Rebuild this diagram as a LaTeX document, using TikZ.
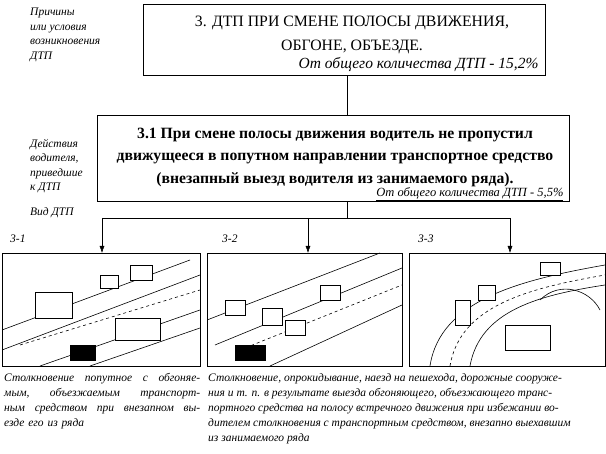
\documentclass[tikz,border=0pt]{standalone}
\usepackage{fontspec}
\setmainfont{Liberation Serif}
\usetikzlibrary{arrows.meta}
\begin{document}
\begin{tikzpicture}[x=1pt,y=-1pt,
  side/.style={font=\itshape\fontsize{11.5}{14.5}\selectfont,align=left,anchor=north west,inner sep=0},
  captext/.style={font=\itshape\fontsize{11.5}{15}\selectfont,align=left,anchor=north west,inner sep=0},
  pic/.style={draw,line width=0.8pt},
  road/.style={line width=0.6pt},
  car/.style={draw,fill=white,line width=0.6pt},
  arr/.style={-{Latex[length=7pt,width=5pt]},line width=0.5pt}]
\useasboundingbox (0,0) rectangle (606,454);
% boxes
\node[draw,line width=0.8pt,minimum width=402,minimum height=71,anchor=north west,inner sep=0] (b1) at (143,4) {};
\node[font=\fontsize{15.8}{24}\selectfont,align=center] (t1) at (352,35) {3. ДТП ПРИ СМЕНЕ ПОЛОСЫ ДВИЖЕНИЯ,\\ОБГОНЕ, ОБЪЕЗДЕ.};
\node[font=\itshape\fontsize{15.5}{16}\selectfont,anchor=east] (p1) at (542,65) {От общего количества ДТП - 15,2\%};
\node[draw,line width=0.8pt,minimum width=472,minimum height=86,anchor=north west,inner sep=0] (b2) at (97,115) {};
\node[font=\bfseries\fontsize{15.7}{22.5}\selectfont,align=center] (t2) at (335,157) {3.1 При смене полосы движения водитель не пропустил\\движущееся в попутном направлении транспортное средство\\(внезапный выезд водителя из занимаемого ряда).};
\node[font=\itshape\fontsize{12.5}{14}\selectfont,anchor=east] (p2) at (567,194) {\underline{От общего количества ДТП - 5,5\%}};
\draw[line width=0.5pt] (b1.south -| 347,0) -- (b2.north -| 347,0);
\coordinate (j) at (347,218);
\draw[line width=0.5pt] (b2.south -| 347,0) -- (j);
\coordinate (l) at (102,218); \coordinate (m) at (308,218); \coordinate (r) at (510,218);
\draw[line width=0.5pt] (l) -- (r);
% side labels
\node[side] (s1) at (30,8) {Причины\\или условия\\возникновения\\ДТП};
\node[side] (s2) at (30,139) {Действия\\водителя,\\приведшие\\к ДТП};
\node[side] (s3) at (30,207) {Вид ДТП};
\node[side] (n1) at (10,235) {3-1};
\node[side] (n2) at (222,235) {3-2};
\node[side] (n3) at (418,235) {3-3};
% pictures
\node[pic,minimum width=198,minimum height=113,anchor=north west,inner sep=0] (i1) at (2,253) {};
\node[pic,minimum width=195,minimum height=113,anchor=north west,inner sep=0] (i2) at (207,253) {};
\node[pic,minimum width=196,minimum height=113,anchor=north west,inner sep=0] (i3) at (409,253) {};
\draw[arr] (l) -- (l |- i1.north);
\draw[arr] (m) -- (m |- i2.north);
\draw[arr] (r) -- (r |- i3.north);
% picture 1
\begin{scope}
\clip (2,253) rectangle (200,366);
\draw[road] (2,330) -- (190,260); \draw[road] (2,350) -- (200,275);
\draw[road,dashed] (20,345) -- (200,290);
\draw[road] (40,366) -- (200,310); \draw[road] (90,366) -- (200,328);
\draw[car] (35,292) rectangle (72,318); \draw[car] (115,318) rectangle (160,340);
\draw[car] (130,265) rectangle (152,280); \draw[car] (100,275) rectangle (118,288);
\draw[car,fill=black] (70,345) rectangle (95,360);
\end{scope}
% picture 2
\begin{scope}
\clip (207,253) rectangle (402,366);
\draw[road] (207,320) -- (380,253); \draw[road] (215,345) -- (402,268);
\draw[road,dashed] (240,350) -- (402,285);
\draw[road] (270,366) -- (402,305);
\draw[car] (262,308) rectangle (282,325); \draw[car] (320,285) rectangle (340,300);
\draw[car] (225,300) rectangle (245,315); \draw[car] (285,320) rectangle (305,335);
\draw[car,fill=black] (235,345) rectangle (265,360);
\end{scope}
% picture 3
\begin{scope}
\clip (409,253) rectangle (605,366);
\draw[road] (430,366) .. controls (440,300) and (520,280) .. (605,265);
\draw[road] (470,366) .. controls (480,310) and (540,295) .. (605,285);
\draw[road,dashed] (450,366) .. controls (460,305) and (530,288) .. (605,275);
\draw[car] (455,300) rectangle (470,325); \draw[car] (478,285) rectangle (495,300);
\draw[car] (505,325) rectangle (550,350); \draw[car] (540,262) rectangle (560,275);
\draw[road] (540,300) .. controls (560,280) and (590,290) .. (600,310);
\end{scope}
% captions
\node[captext,text width=196] (c1) at (4,373) {Столкновение\hfill попутное\hfill с\hfill обгоняе-\\мым,\hfill объезжаемым\hfill транспорт-\\ным\hfill средством\hfill при\hfill внезапном\hfill вы-\\езде его из ряда};
\node[captext] (c2) at (208,373) {Столкновение, опрокидывание, наезд на пешехода, дорожные сооруже-\\ния и т. п. в результате выезда обгоняющего, объезжающего транс-\\портного средства на полосу встречного движения при избежании во-\\дителем столкновения с транспортным средством, внезапно выехавшим\\из занимаемого ряда};
\end{tikzpicture}
\end{document}
